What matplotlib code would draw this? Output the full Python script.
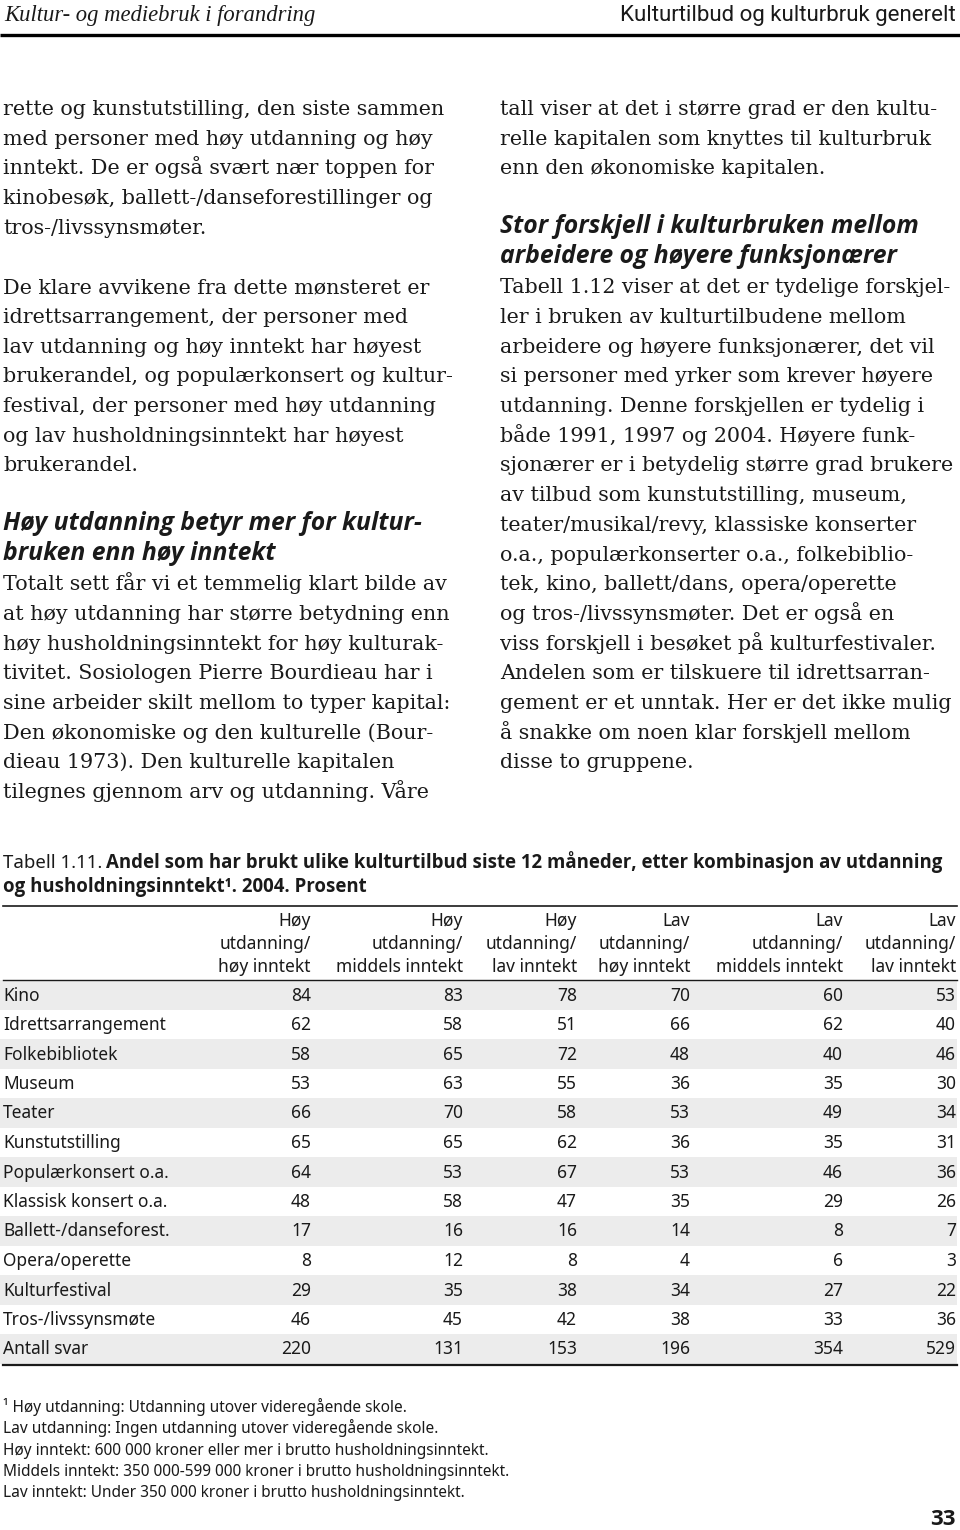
import os
import matplotlib
matplotlib.use("Agg")
import matplotlib.pyplot as plt
from matplotlib import font_manager
from matplotlib.patches import Rectangle


def pick(names, weight='normal', style='normal'):
    ''' first installed family that really has the asked weight/style '''
    for n in names:
        try:
            fp = font_manager.FontProperties(family=n, weight=weight, style=style)
            path = os.path.basename(font_manager.findfont(fp, fallback_to_default=False)).lower()
        except Exception:
            continue
        if weight == 'bold' and 'bold' not in path and 'black' not in path:
            continue
        if style == 'italic' and 'italic' not in path and 'oblique' not in path:
            continue
        return n
    return 'DejaVu Sans'


SERIF = 'DejaVu Serif'
SANS = pick(['Noto Sans', 'Open Sans', 'DejaVu Sans'])
BOLD = pick(['Open Sans', 'Noto Sans', 'Lato', 'Roboto', 'DejaVu Sans'], weight='bold')
BOLDIT = pick(['Open Sans', 'Noto Sans', 'Lato', 'Roboto', 'DejaVu Sans'], weight='bold', style='italic')
NARROW = pick(['Liberation Sans Narrow', 'Roboto', 'DejaVu Sans'])
HEADSERIF = pick(['Liberation Serif', 'DejaVu Serif'], style='italic')
INK = '#1a1a1a'

# page texts
header_left = 'Kultur- og mediebruk i forandring'
header_right = 'Kulturtilbud og kulturbruk generelt'

left_lines = [
    ('b', 'rette og kunstutstilling, den siste sammen'),
    ('b', 'med personer med høy utdanning og høy'),
    ('b', 'inntekt. De er også svært nær toppen for'),
    ('b', 'kinobesøk, ballett-/danseforestillinger og'),
    ('b', 'tros-/livssynsmøter.'),
    None,
    ('b', 'De klare avvikene fra dette mønsteret er'),
    ('b', 'idrettsarrangement, der personer med'),
    ('b', 'lav utdanning og høy inntekt har høyest'),
    ('b', 'brukerandel, og populærkonsert og kultur-'),
    ('b', 'festival, der personer med høy utdanning'),
    ('b', 'og lav husholdningsinntekt har høyest'),
    ('b', 'brukerandel.'),
    None,
    ('h', 'Høy utdanning betyr mer for kultur-'),
    ('h', 'bruken enn høy inntekt'),
    ('b', 'Totalt sett får vi et temmelig klart bilde av'),
    ('b', 'at høy utdanning har større betydning enn'),
    ('b', 'høy husholdningsinntekt for høy kulturak-'),
    ('b', 'tivitet. Sosiologen Pierre Bourdieau har i'),
    ('b', 'sine arbeider skilt mellom to typer kapital:'),
    ('b', 'Den økonomiske og den kulturelle (Bour-'),
    ('b', 'dieau 1973). Den kulturelle kapitalen'),
    ('b', 'tilegnes gjennom arv og utdanning. Våre'),
]

right_lines = [
    ('b', 'tall viser at det i større grad er den kultu-'),
    ('b', 'relle kapitalen som knyttes til kulturbruk'),
    ('b', 'enn den økonomiske kapitalen.'),
    None,
    ('h', 'Stor forskjell i kulturbruken mellom'),
    ('h', 'arbeidere og høyere funksjonærer'),
    ('b', 'Tabell 1.12 viser at det er tydelige forskjel-'),
    ('b', 'ler i bruken av kulturtilbudene mellom'),
    ('b', 'arbeidere og høyere funksjonærer, det vil'),
    ('b', 'si personer med yrker som krever høyere'),
    ('b', 'utdanning. Denne forskjellen er tydelig i'),
    ('b', 'både 1991, 1997 og 2004. Høyere funk-'),
    ('b', 'sjonærer er i betydelig større grad brukere'),
    ('b', 'av tilbud som kunstutstilling, museum,'),
    ('b', 'teater/musikal/revy, klassiske konserter'),
    ('b', 'o.a., populærkonserter o.a., folkebiblio-'),
    ('b', 'tek, kino, ballett/dans, opera/operette'),
    ('b', 'og tros-/livssynsmøter. Det er også en'),
    ('b', 'viss forskjell i besøket på kulturfestivaler.'),
    ('b', 'Andelen som er tilskuere til idrettsarran-'),
    ('b', 'gement er et unntak. Her er det ikke mulig'),
    ('b', 'å snakke om noen klar forskjell mellom'),
    ('b', 'disse to gruppene.'),
]

# table data
caption_lead = 'Tabell 1.11.'
caption_bold = ['Andel som har brukt ulike kulturtilbud siste 12 måneder, etter kombinasjon av utdanning',
                'og husholdningsinntekt¹. 2004. Prosent']
col_heads = [
    ['Høy', 'utdanning/', 'høy inntekt'],
    ['Høy', 'utdanning/', 'middels inntekt'],
    ['Høy', 'utdanning/', 'lav inntekt'],
    ['Lav', 'utdanning/', 'høy inntekt'],
    ['Lav', 'utdanning/', 'middels inntekt'],
    ['Lav', 'utdanning/', 'lav inntekt'],
]
categories = ['Kino', 'Idrettsarrangement', 'Folkebibliotek', 'Museum', 'Teater',
              'Kunstutstilling', 'Populærkonsert o.a.', 'Klassisk konsert o.a.',
              'Ballett-/danseforest.', 'Opera/operette', 'Kulturfestival',
              'Tros-/livssynsmøte', 'Antall svar']
hoy_hoy = [84, 62, 58, 53, 66, 65, 64, 48, 17, 8, 29, 46, 220]
hoy_mid = [83, 58, 65, 63, 70, 65, 53, 58, 16, 12, 35, 45, 131]
hoy_lav = [78, 51, 72, 55, 58, 62, 67, 47, 16, 8, 38, 42, 153]
lav_hoy = [70, 66, 48, 36, 53, 36, 53, 35, 14, 4, 34, 38, 196]
lav_mid = [60, 62, 40, 35, 49, 35, 46, 29, 8, 6, 27, 33, 354]
lav_lav = [53, 40, 46, 30, 34, 31, 36, 26, 7, 3, 22, 36, 529]
columns = [hoy_hoy, hoy_mid, hoy_lav, lav_hoy, lav_mid, lav_lav]

footnotes = ['¹ Høy utdanning: Utdanning utover videregående skole.',
             'Lav utdanning: Ingen utdanning utover videregående skole.',
             'Høy inntekt: 600 000 kroner eller mer i brutto husholdningsinntekt.',
             'Middels inntekt: 350 000-599 000 kroner i brutto husholdningsinntekt.',
             'Lav inntekt: Under 350 000 kroner i brutto husholdningsinntekt.']
page_no = '33'

# figure in pixel units
fig = plt.figure(figsize=(9.6, 15.3), dpi=100)
ax = fig.add_axes([0, 0, 1, 1])
ax.set_xlim(0, 960)
ax.set_ylim(1530, 0)
ax.axis('off')
renderer = fig.canvas.get_renderer()

# running head
ax.text(4, 21, header_left, family=HEADSERIF, style='italic', fontsize=16.3, color=INK, va='baseline')
ax.text(956, 21, header_right, family=NARROW, fontsize=16, color=INK, ha='right', va='baseline')
ax.plot([0, 960], [35, 35], color='black', lw=2.4, solid_capstyle='butt')

# two text columns
line_h = 29.7
top = 115
for x0, lines in [(3, left_lines), (500, right_lines)]:
    for i, ln in enumerate(lines):
        if ln is None:
            continue
        kind, s = ln
        y = top + i * line_h
        if kind == 'b':
            ax.text(x0, y, s, family=SERIF, fontsize=14.9, color=INK, va='baseline')
        else:
            ax.text(x0, y - 1, s, family=BOLDIT, fontsize=17.8, weight='bold', style='italic',
                    color=INK, va='baseline')

# table caption
t = ax.text(3, 868, caption_lead, family=SANS, fontsize=13.4, color=INK, va='baseline')
x_end = t.get_window_extent(renderer=renderer).x1
ax.text(x_end + 4, 868, caption_bold[0], family=BOLD, fontsize=13.4, weight='bold', color=INK, va='baseline')
ax.text(3, 892, caption_bold[1], family=BOLD, fontsize=13.4, weight='bold', color=INK, va='baseline')
ax.plot([3, 957], [906, 906], color=INK, lw=1.2)

col_right = [311, 463, 577, 690, 843, 956]
for j, head in enumerate(col_heads):
    for k, s in enumerate(head):
        ax.text(col_right[j], 926 + k * 23, s, family=SANS, fontsize=12.5, color=INK,
                ha='right', va='baseline')
ax.plot([3, 957], [980, 980], color=INK, lw=1.0)

row_h = 29.5
row0 = 995
for i, cat in enumerate(categories):
    yc = row0 + i * row_h
    if i % 2 == 0:
        ax.add_patch(Rectangle((0, yc - row_h / 2), 957, row_h, color='#ececec', lw=0, zorder=0))
    ax.text(3, yc + 5.5, cat, family=SANS, fontsize=12.5, color=INK, va='baseline')
    for j, col in enumerate(columns):
        ax.text(col_right[j], yc + 5.5, str(col[i]), family=SANS, fontsize=12.5, color=INK,
                ha='right', va='baseline')
ax.plot([3, 957], [1365, 1365], color=INK, lw=1.6)

for k, s in enumerate(footnotes):
    ax.text(3, 1412 + k * 21.3, s, family=SANS, fontsize=11.1, color=INK, va='baseline')

ax.text(956, 1525, page_no, family=BOLD, fontsize=16, weight='bold', color=INK, ha='right', va='baseline')

fig.savefig('out.png', dpi=100, facecolor='white')
